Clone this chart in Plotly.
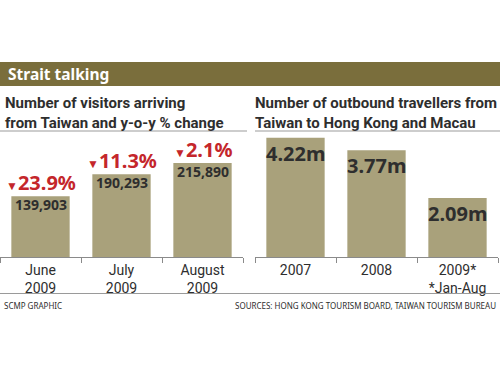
import plotly.graph_objects as go

# Data
months = ["June 2009", "July 2009", "August 2009"]
month_labels = ["June<br>2009", "July<br>2009", "August<br>2009"]
visitors = [139903, 190293, 215890]
yoy_change = [-23.9, -11.3, -2.1]

years = ["2007", "2008", "2009*"]
year_labels = ["2007", "2008", "2009*<br>*Jan-Aug"]
travellers_m = [4.22, 3.77, 2.09]

W, H = 500, 375
BAR = "#a9a17b"
HEADER = "#7a6e3c"
RED = "#c4262b"
DARK = "#2e2e2e"
FONT = "Noto Sans"
NARROW = "Liberation Sans Narrow, Roboto, sans-serif"

def py(px):
    return 1 - px / H

def pxx(px):
    return px / W

fig = go.Figure()

fig.add_trace(go.Bar(x=months, y=visitors, marker=dict(color=BAR, line=dict(width=0)),
                     width=0.72, xaxis="x", yaxis="y", hoverinfo="skip"))
fig.add_trace(go.Bar(x=years, y=travellers_m, marker=dict(color=BAR, line=dict(width=0)),
                     width=0.72, xaxis="x2", yaxis="y2", hoverinfo="skip"))

base_px, top_px = 257, 130
ydom = [py(base_px), py(top_px)]

axis_common = dict(type="category", range=[-0.5, 2.5], showline=True, linecolor="#8a8a8a",
                   linewidth=1, ticks="outside", tickson="boundaries", ticklen=5,
                   tickcolor="#8a8a8a", tickfont=dict(family=NARROW, size=14, color=DARK),
                   showgrid=False, fixedrange=True)

fig.update_layout(
    width=W, height=H, margin=dict(l=0, r=0, t=0, b=0),
    paper_bgcolor="white", plot_bgcolor="white", showlegend=False,
    xaxis=dict(domain=[pxx(0), pxx(243)], tickvals=months, ticktext=month_labels,
               anchor="y", **axis_common),
    yaxis=dict(domain=ydom, range=[0, 292000], visible=False, fixedrange=True, anchor="x"),
    xaxis2=dict(domain=[pxx(255), pxx(498)], tickvals=years, ticktext=year_labels,
                anchor="y2", **axis_common),
    yaxis2=dict(domain=ydom, range=[0, 4.49], visible=False, anchor="x2", fixedrange=True),
)

shapes = [
    dict(type="rect", xref="paper", yref="paper", x0=0, x1=1, y0=py(86), y1=py(62),
         fillcolor=HEADER, line=dict(width=0), layer="below"),
    dict(type="line", xref="paper", yref="paper", x0=0, x1=pxx(247), y0=py(131), y1=py(131),
         line=dict(color="#bdbdbd", width=1.5)),
    dict(type="line", xref="paper", yref="paper", x0=pxx(255), x1=1, y0=py(131), y1=py(131),
         line=dict(color="#bdbdbd", width=1.5)),
    dict(type="line", xref="paper", yref="paper", x0=0, x1=1, y0=py(293.5), y1=py(293.5),
         line=dict(color="#9a9a9a", width=1)),
]
fig.update_layout(shapes=shapes)

ann = []
ann.append(dict(text="<b>Strait talking</b>", xref="paper", yref="paper", x=pxx(6), y=py(74),
                xanchor="left", yanchor="middle", showarrow=False,
                font=dict(family=FONT, size=15.5, color="white")))
ann.append(dict(text="<b>Number of visitors arriving<br>from Taiwan and y-o-y % change</b>",
                xref="paper", yref="paper", x=pxx(3), y=py(92), xanchor="left", yanchor="top",
                align="left", showarrow=False,
                font=dict(family=NARROW, size=15, color=DARK)))
ann.append(dict(text="<b>Number of outbound travellers from<br>Taiwan to Hong Kong and Macau</b>",
                xref="paper", yref="paper", x=pxx(253), y=py(92), xanchor="left", yanchor="top",
                align="left", showarrow=False,
                font=dict(family=NARROW, size=15, color=DARK)))

for i, (v, c) in enumerate(zip(visitors, yoy_change)):
    ann.append(dict(text=f"<b>{v:,}</b>", x=i, y=v, xref="x", yref="y", yanchor="top",
                    yshift=3, showarrow=False,
                    font=dict(family=FONT, size=14, color=DARK)))
    ann.append(dict(text=f"<b><span style='font-size:12px'>▼</span>{abs(c):.1f}%</b>",
                    x=i, y=v, xref="x", yref="y", yanchor="bottom", yshift=-2,
                    showarrow=False, font=dict(family=FONT, size=20, color=RED)))

for i, v in enumerate(travellers_m):
    ann.append(dict(text=f"<b>{v:.2f}m</b>", x=i, y=v, xref="x2", yref="y2", yanchor="top",
                    yshift=0, showarrow=False,
                    font=dict(family=FONT, size=20, color=DARK)))

ann.append(dict(text="SCMP GRAPHIC", xref="paper", yref="paper", x=pxx(2), y=py(305),
                xanchor="left", yanchor="middle", showarrow=False,
                font=dict(family=FONT, size=8, color=DARK)))
ann.append(dict(text="SOURCES: HONG KONG TOURISM BOARD, TAIWAN TOURISM BUREAU", xref="paper",
                yref="paper", x=pxx(498), y=py(305), xanchor="right", yanchor="middle",
                showarrow=False, font=dict(family=FONT, size=8, color=DARK)))

fig.update_layout(annotations=ann)
fig.write_html("out.html", config={"displayModeBar": False},
               post_script="document.body.style.margin='0';")
